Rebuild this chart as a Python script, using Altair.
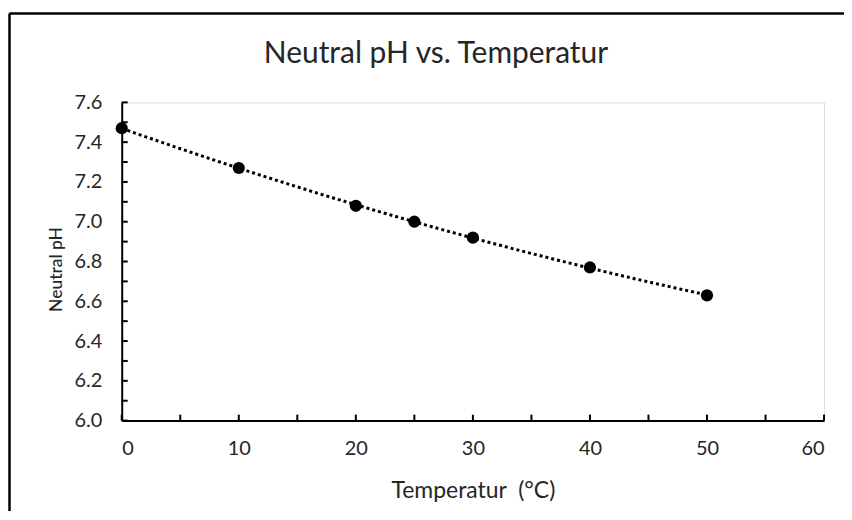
import altair as alt
import pandas as pd

temps = [0, 10, 20, 25, 30, 40, 50]
neutral_ph = [7.47, 7.27, 7.08, 7.00, 6.92, 6.77, 6.63]
x_label_values = [0, 10, 20, 30, 40, 50, 60]
x_tick_values = [0, 5, 10, 15, 20, 25, 30, 35, 40, 45, 50, 55, 60]
y_label_values = [6.0, 6.2, 6.4, 6.6, 6.8, 7.0, 7.2, 7.4, 7.6]
y_tick_values = [6.0, 6.1, 6.2, 6.3, 6.4, 6.5, 6.6, 6.7, 6.8, 6.9, 7.0,
                 7.1, 7.2, 7.3, 7.4, 7.5, 7.6]
chart_title = ["Neutral pH vs. Temperatur"]

W, H = 704, 319
FONT = "Lato"
TXT = "#262626"

df = pd.DataFrame({"T": temps, "pH": neutral_ph})
xscale = alt.Scale(domain=[0, 60], nice=False, zero=False)
yscale = alt.Scale(domain=[6.0, 7.6], nice=False, zero=False)

x_axis = alt.Axis(values=x_label_values, title="Temperatur\u00a0 (°C)", ticks=False,
                  tickSize=0, labelPadding=18, titlePadding=21, grid=False,
                  domainColor="black", domainWidth=2, labelFontSize=20,
                  titleFontSize=23, labelFont=FONT, titleFont=FONT,
                  labelColor=TXT, titleColor=TXT, titleFontWeight="normal")
y_axis = alt.Axis(values=y_label_values, format=".1f", title="Neutral pH",
                  ticks=False, tickSize=0, labelPadding=20, titlePadding=8,
                  titleY=167, titleAlign="center",
                  grid=False, domainColor="black", domainWidth=2,
                  labelFontSize=20, titleFontSize=17.5, labelFont=FONT,
                  titleFont=FONT, labelColor=TXT, titleColor=TXT,
                  titleFontWeight=500)

base = alt.Chart(df)

trend = base.transform_regression(
    "T", "pH", method="poly", order=2, extent=[0, 50]
).mark_line(color="black", strokeWidth=3, strokeDash=[3, 3], strokeCap="butt").encode(
    x=alt.X("T:Q", scale=xscale, axis=x_axis),
    y=alt.Y("pH:Q", scale=yscale, axis=y_axis),
)

points = base.mark_circle(color="black", size=150, opacity=1).encode(
    x=alt.X("T:Q", scale=xscale, axis=x_axis),
    y=alt.Y("pH:Q", scale=yscale, axis=y_axis),
)

xt = alt.Chart(pd.DataFrame({"T": x_tick_values})).mark_rule(
    color="black", strokeWidth=2).encode(
    x=alt.X("T:Q", scale=xscale, axis=x_axis),
    y=alt.value(H), y2=alt.value(H - 6),
)
yt = alt.Chart(pd.DataFrame({"pH": y_tick_values})).mark_rule(
    color="black", strokeWidth=2).encode(
    y=alt.Y("pH:Q", scale=yscale, axis=y_axis),
    x=alt.value(0), x2=alt.value(6),
)

one = pd.DataFrame({"a": [0]})
border_top = alt.Chart(one).mark_rule(color="black", strokeWidth=2.5, clip=False).encode(
    x=alt.value(-112.5), x2=alt.value(W + 200), y=alt.value(-89))
border_left = alt.Chart(one).mark_rule(color="black", strokeWidth=2.5, clip=False).encode(
    x=alt.value(-112.5), y=alt.value(-89), y2=alt.value(H + 200))

title_text = alt.Chart(pd.DataFrame({"t": chart_title})).mark_text(
    font=FONT, fontSize=30, color=TXT, align="center", baseline="alphabetic"
).encode(text="t:N", x=alt.value(315), y=alt.value(-39))

chart = alt.layer(xt, yt, trend, points, border_top, border_left, title_text).properties(
    width=W, height=H,
    autosize=alt.AutoSizeParams(type="none"),
    padding={"left": 114, "top": 94, "right": 20, "bottom": 90},
).configure_view(stroke=None).configure(background="white")

chart.save("out.html", embed_options={"renderer": "svg", "actions": False})
